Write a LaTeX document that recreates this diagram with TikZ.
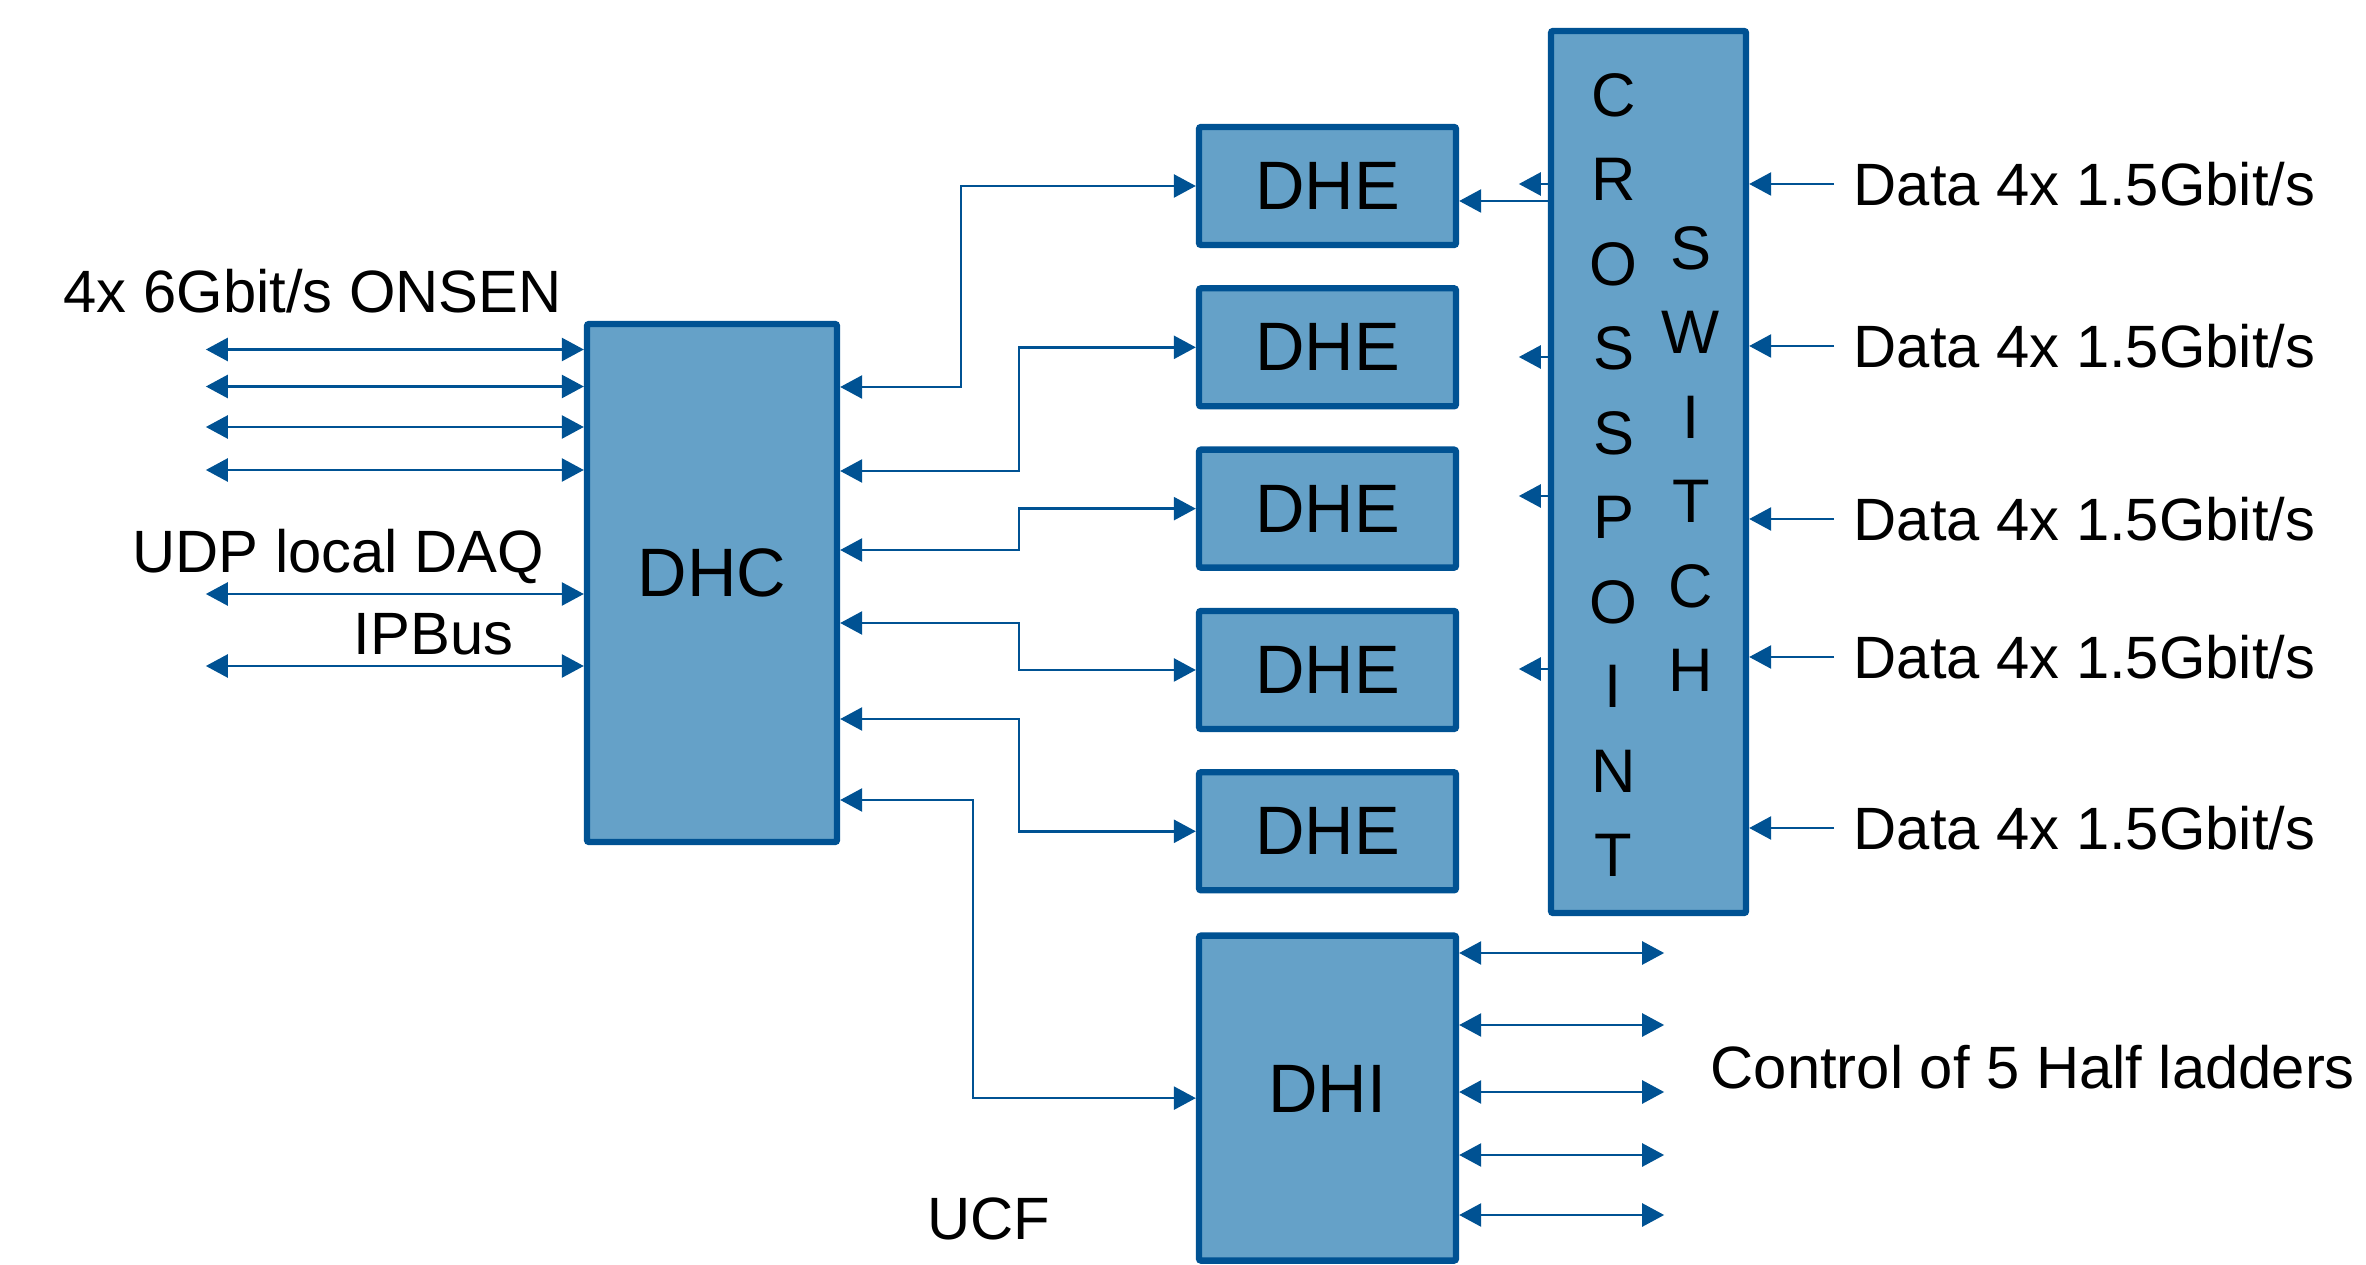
\documentclass[tikz,border=0pt]{standalone}
\usepackage{fontspec}
\setmainfont{Liberation Sans}
\usetikzlibrary{positioning, arrows.meta, calc}
\definecolor{boxfill}{RGB}{101,161,200}
\definecolor{boxblue}{RGB}{0,82,147}

\begin{document}
\begin{tikzpicture}[
    >={Triangle[length=2.2mm,width=2.3mm]},
    box/.style={draw=boxblue, fill=boxfill, line width=1.8pt, rounded corners=0.6pt,
                inner sep=0pt, outer sep=0.9pt, font=\fontsize{19.5}{23}\selectfont},
    dhebox/.style={box, minimum width=2.57cm, minimum height=1.18cm},
    lbl/.style={inner sep=0pt, font=\fontsize{17}{20}\selectfont},
    letter/.style={inner sep=0pt, font=\fontsize{17.5}{20}\selectfont},
    arrow/.style={->, draw=boxblue, line width=0.75pt},
    biarrow/.style={<->, draw=boxblue, line width=0.75pt},
]
\useasboundingbox (0,0) rectangle (23.66,-12.65);

% ------------------------------------------------------------------ DHC ---
\node[box, minimum width=2.5cm, minimum height=5.18cm] (dhc) at (7.12,-5.83) {\raisebox{2mm}{DHC}};

\node[lbl, anchor=base west] (onsen) at (0.63,-3.13) {4x 6Gbit/s ONSEN};
\node[lbl, anchor=base east] (udp) at (5.45,-5.73) {UDP local DAQ};
\node[lbl, anchor=base west] (ipbus) at (3.53,-6.545) {IPBus};
\foreach \y in {3.495,3.865,4.27,4.70,5.94,6.66}
  \draw[biarrow] (dhc.west |- 0,-\y) -- ++(-3.78,0);

% ------------------------------------------------------------ DHE, DHI ---
\node[dhebox] (dhe1) at (13.275,-1.86) {DHE};
\node[dhebox, below=3.7mm of dhe1] (dhe2) {DHE};
\node[dhebox, below=3.7mm of dhe2] (dhe3) {DHE};
\node[dhebox, below=3.7mm of dhe3] (dhe4) {DHE};
\node[dhebox, below=3.7mm of dhe4] (dhe5) {DHE};
\node[box, minimum width=2.57cm, minimum height=3.25cm, below=3.9mm of dhe5] (dhi) {\raisebox{1.8mm}{DHI}};

\foreach \y/\x/\t in {3.87/9.61/dhe1, 4.71/10.19/dhe2, 5.50/10.19/dhe3,
                      6.23/10.19/dhe4, 7.19/10.19/dhe5, 8.00/9.73/dhi}
  \draw[biarrow] (dhc.east |- 0,-\y) -- (\x,-\y) |- (\t);

\node[lbl, anchor=base west] (ucf) at (9.27,-12.39) {UCF};

\foreach \y in {9.53,10.25,10.92,11.55,12.15}
  \draw[biarrow] (dhi.east |- 0,-\y) -- ++(2.05,0);
\node[lbl, anchor=base west] (ctrl) at (17.10,-10.88) {Control of 5 Half ladders};

% ------------------------------------------------------ crosspoint switch ---
\node[box, minimum width=1.95cm, minimum height=8.82cm] (xpt) at (16.485,-4.72) {};
\foreach \ch [count=\i from 0] in {C,R,O,S,S,P,O,I,N,T}
  \node[letter] (cp\i) at (16.135,{-0.95-0.845*\i}) {\ch};
\foreach \ch [count=\i from 0] in {S,W,I,T,C,H}
  \node[letter] (sw\i) at (16.91,{-2.48-0.845*\i}) {\ch};

\draw[arrow] (xpt.west |- 0,-2.01) -- (dhe1.east |- 0,-2.01);
\foreach \y in {1.84,3.57,4.96,6.69}
  \draw[arrow] (xpt.west |- 0,-\y) -- ++(-0.29,0);

\foreach \y [count=\i] in {1.84,3.46,5.19,6.57,8.28} {
  \node[lbl, anchor=west] (data\i) at (18.53,-\y) {Data 4x 1.5Gbit/s};
  \draw[arrow] ([xshift=-1.9mm]data\i.west) -- (xpt.east |- data\i.west);
}

\end{tikzpicture}
\end{document}
